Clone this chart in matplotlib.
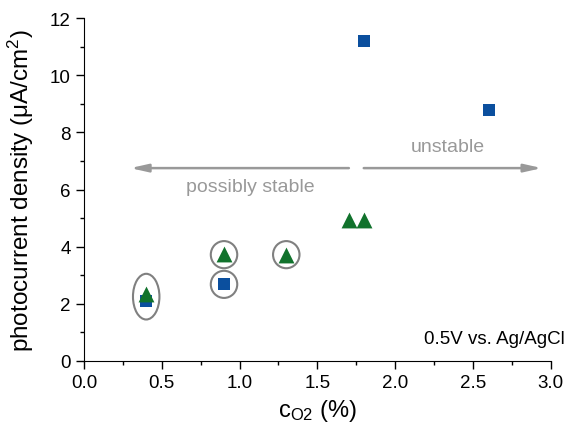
import matplotlib.pyplot as plt
from matplotlib.patches import Ellipse
from matplotlib.ticker import MultipleLocator

plt.rcParams['font.family'] = ['Liberation Sans', 'DejaVu Sans']
plt.rcParams['mathtext.fontset'] = 'custom'
plt.rcParams['mathtext.rm'] = 'Liberation Sans'
plt.rcParams['mathtext.it'] = 'Liberation Sans'

# data
sq_x = [0.4, 0.9, 1.8, 2.6]
sq_y = [2.1, 2.7, 11.2, 8.8]
tri_x = [0.4, 0.9, 1.3, 1.7, 1.8]
tri_y = [2.35, 3.75, 3.7, 4.95, 4.95]

# highlighted points (center x, center y, width, height)
rings = [(0.4, 2.25, 0.17, 1.6), (0.9, 3.72, 0.17, 0.95),
         (0.9, 2.68, 0.17, 0.95), (1.3, 3.72, 0.17, 0.95)]

BLUE = '#0B4F9E'
GREEN = '#11722C'
GREY = '#999999'

fig = plt.figure(figsize=(5.75, 4.35), dpi=100)
ax = fig.add_axes([0.146, 0.168, 0.812, 0.788])

ax.scatter(sq_x, sq_y, marker='s', s=80, color=BLUE, zorder=3, linewidths=0)
ax.scatter(tri_x, tri_y, marker='^', s=130, color=GREEN, zorder=4, linewidths=0)

for cx, cy, w, h in rings:
    ax.add_patch(Ellipse((cx, cy), w, h, fill=False, edgecolor='#808080', lw=1.5, zorder=5))

# stability arrows
style = '-|>,head_length=0.8,head_width=0.18'
ax.annotate('', xy=(0.28, 6.75), xytext=(1.72, 6.75),
            arrowprops=dict(arrowstyle=style, color=GREY, lw=1.8, mutation_scale=13))
ax.annotate('', xy=(2.96, 6.75), xytext=(1.78, 6.75),
            arrowprops=dict(arrowstyle=style, color=GREY, lw=1.8, mutation_scale=13))
ax.text(1.07, 6.12, 'possibly stable', color=GREY, fontsize=14, ha='center', va='center')
ax.text(2.34, 7.5, 'unstable', color=GREY, fontsize=14, ha='center', va='center')

ax.text(1.03, 0.065, '0.5V vs. Ag/AgCl', fontsize=13.5, ha='right', va='center',
        transform=ax.transAxes)

ax.set_xlim(0, 3.0)
ax.set_ylim(0, 12)
ax.xaxis.set_major_locator(MultipleLocator(0.5))
ax.xaxis.set_minor_locator(MultipleLocator(0.25))
ax.yaxis.set_major_locator(MultipleLocator(2))
ax.yaxis.set_minor_locator(MultipleLocator(1))
ax.xaxis.set_major_formatter(plt.FormatStrFormatter('%.1f'))
ax.tick_params(which='major', direction='out', length=6, width=1, labelsize=13.5)
ax.tick_params(which='minor', direction='out', length=3, width=1)
ax.spines['top'].set_visible(False)
ax.spines['right'].set_visible(False)

ax.set_xlabel(r'c$_{\mathrm{O2}}$ (%)', fontsize=17, labelpad=4)
ax.set_ylabel(r'photocurrent density ($\mathrm{\mu}$A/cm$^2$)', fontsize=17.5, labelpad=10)

fig.savefig('out.png', dpi=100)
